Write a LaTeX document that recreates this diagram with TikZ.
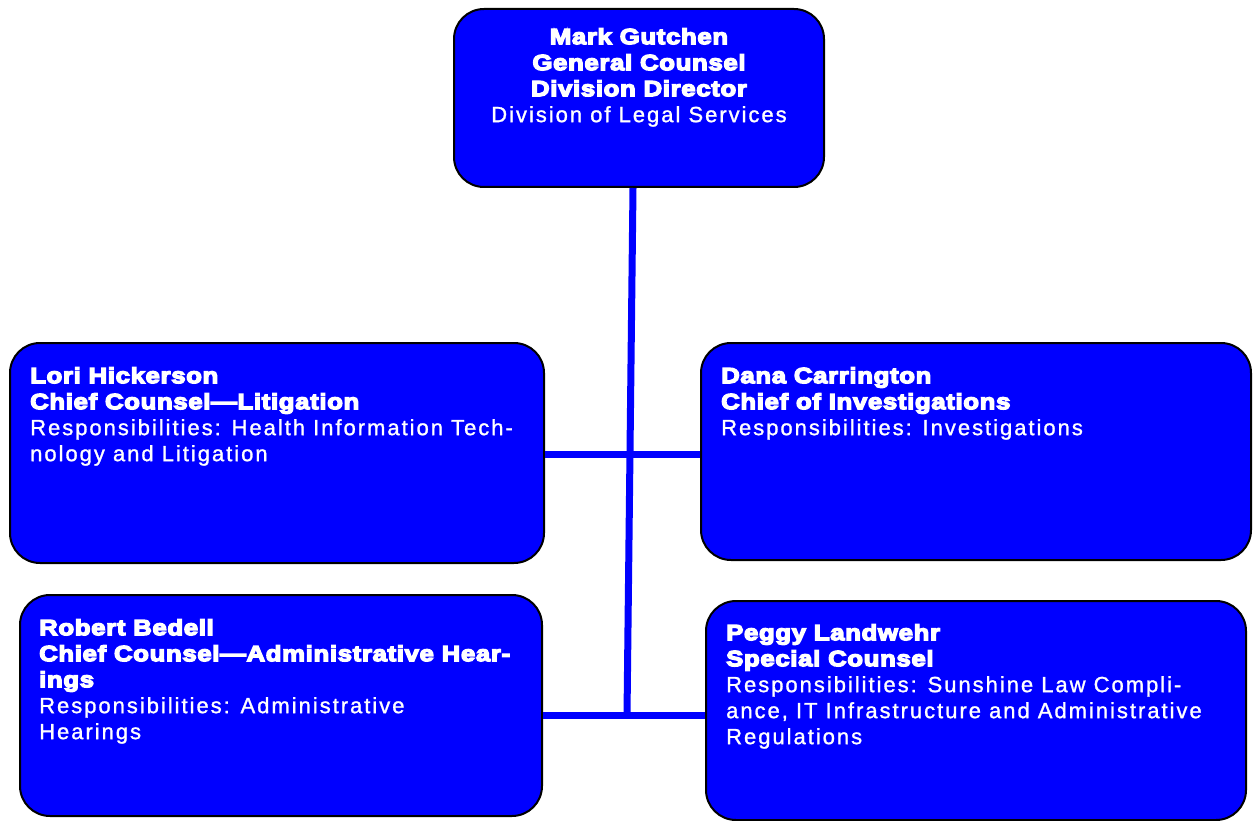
\documentclass[tikz,border=0pt]{standalone}
\usepackage{fontspec}
\setmainfont{Liberation Sans}
\newfontfamily\regfont{Liberation Sans}[LetterSpace=9, FakeBold=1.2]
\newfontfamily\heavyfont{Liberation Sans Bold}[FakeBold=6, FakeStretch=1.17, LetterSpace=3]
\newcommand\hv[1]{{\heavyfont #1}}
\tikzset{
  orgbox/.style={draw=black, line width=2pt, fill=blue, rounded corners=30pt, inner sep=0pt},
  conn/.style={draw=blue, line width=7pt},
  lbl/.style={text=white, inner sep=0pt, anchor=north west, align=left, font=\regfont\fontsize{22}{26}\selectfont},
}
\begin{document}
\begin{tikzpicture}[x=1pt,y=-1pt]
\fill[white] (0,0) rectangle (1254,821);
\useasboundingbox (0,0) rectangle (1254,821);
% connectors
\coordinate (j1) at (630,454);
\coordinate (j2) at (627,715);
\node[orgbox, minimum width=370pt, minimum height=178pt] (top) at (639,98) {};
\node[orgbox, minimum width=534pt, minimum height=220pt] (lori) at (277,453) {};
\node[orgbox, minimum width=550pt, minimum height=217pt] (dana) at (976,451.5) {};
\node[orgbox, minimum width=522pt, minimum height=221pt] (robert) at (281,705.5) {};
\node[orgbox, minimum width=540pt, minimum height=219pt] (peggy) at (976,710.5) {};
\draw[conn] ([xshift=-6pt]top.south) -- (j2);
\draw[conn] (lori.east |- j1) -- (dana.west |- j1);
\draw[conn] (robert.east |- j2) -- (peggy.west |- j2);
% texts
\node[lbl, anchor=north, align=center] (toptxt) at (639,28)
  {\hv{Mark Gutchen}\\ \hv{General Counsel}\\ \hv{Division Director}\\ Division of Legal Services};
\node[lbl] (loritxt) at (30,367)
  {\hv{Lori Hickerson}\\ \hv{Chief Counsel—Litigation}\\ Responsibilities: Health Information Tech-\\ nology and Litigation};
\node[lbl] (danatxt) at (721,367)
  {\hv{Dana Carrington}\\ \hv{Chief of Investigations}\\ Responsibilities: Investigations};
\node[lbl] (roberttxt) at (39,619)
  {\hv{Robert Bedell}\\ \hv{Chief Counsel—Administrative Hear-}\\ \hv{ings}\\ Responsibilities: Administrative\\ Hearings};
\node[lbl] (peggytxt) at (726,624)
  {\hv{Peggy Landwehr}\\ \hv{Special Counsel}\\ Responsibilities: Sunshine Law Compli-\\ ance, IT Infrastructure and Administrative\\ Regulations};
\end{tikzpicture}
\end{document}
